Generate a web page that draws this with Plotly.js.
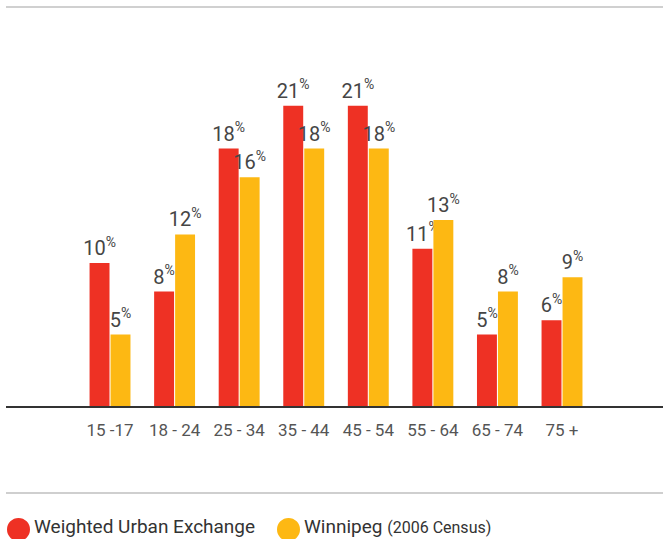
<!DOCTYPE html>
<html><head><meta charset="utf-8">
<script src="https://cdn.plot.ly/plotly-3.0.1.min.js"></script>
<style>html,body{margin:0;padding:0;background:#fff}</style>
</head><body>
<div id="chart" style="width:663px;height:539px"></div>
<script>
const categories = ["15 -17", "18 - 24", "25 - 34", "35 - 44", "45 - 54", "55 - 64", "65 - 74", "75 +"];
const urbanExchange = [10, 8, 18, 21, 21, 11, 5, 6];
const winnipeg = [5, 12, 16, 18, 18, 13, 8, 9];
const seriesNames = ["Weighted Urban Exchange", "Winnipeg"];

const RED = "#EE3124", YEL = "#FDB813", TXT = "#454545";
const W = 663, H = 539, L = 6, R = 0, T = 7, B = 133;
const PW = W - L - R, PH = H - T - B;
const px = x => (x - L) / PW;
const py = y => (H - B - y) / PH;

function barTrace(name, vals, color) {
  return {
    type: "bar", name: name, x: categories, y: vals,
    marker: {color: color},
    text: vals.map(v => v + "<sup>%</sup>"),
    texttemplate: "%{text}",
    textposition: "outside",
    constraintext: "none",
    cliponaxis: false,
    textfont: {family: "Roboto, sans-serif", size: 20, color: TXT},
    hoverinfo: "skip", showlegend: false
  };
}

const data = [barTrace(seriesNames[0], urbanExchange, RED), barTrace(seriesNames[1], winnipeg, YEL)];

const layout = {
  width: W, height: H,
  margin: {l: L, r: R, t: T, b: B, pad: 0},
  paper_bgcolor: "#fff", plot_bgcolor: "#fff",
  barmode: "group", bargap: 0.35, bargroupgap: 0.05,
  showlegend: false,
  xaxis: {
    type: "category", range: [-1.611, 8.564], fixedrange: true,
    showline: true, linecolor: "#333", linewidth: 2,
    ticks: "outside", ticklen: 8, tickcolor: "rgba(0,0,0,0)",
    tickfont: {family: "Roboto, sans-serif", size: 17, color: "#555"},
    showgrid: false, zeroline: false
  },
  yaxis: {
    range: [0, PH / 14.3], visible: false, showgrid: false, zeroline: false, fixedrange: true
  },
  shapes: [
    {type: "line", xref: "paper", yref: "paper", x0: 0, x1: 1, y0: py(7), y1: py(7), line: {color: "#d0d0d0", width: 2}},
    {type: "line", xref: "paper", yref: "paper", x0: 0, x1: 1, y0: py(493), y1: py(493), line: {color: "#cfcfcf", width: 2}},
    {type: "circle", xref: "paper", yref: "paper", x0: px(7), x1: px(30), y0: py(518), y1: py(541), fillcolor: RED, line: {width: 0}},
    {type: "circle", xref: "paper", yref: "paper", x0: px(277), x1: px(300), y0: py(518), y1: py(541), fillcolor: YEL, line: {width: 0}}
  ],
  annotations: [
    {xref: "paper", yref: "paper", x: px(33), y: py(539), xanchor: "left", yanchor: "bottom", showarrow: false,
     borderpad: 0, text: seriesNames[0], font: {family: "Roboto, sans-serif", size: 19, color: "#333"}},
    {xref: "paper", yref: "paper", x: px(303), y: py(539), xanchor: "left", yanchor: "bottom", showarrow: false,
     borderpad: 0, text: seriesNames[1] + " <span style='font-size:16px'>(2006 Census)</span>", font: {family: "Roboto, sans-serif", size: 19, color: "#333"}}
  ]
};

Plotly.newPlot("chart", data, layout, {displayModeBar: false, staticPlot: true});
</script>
</body></html>
